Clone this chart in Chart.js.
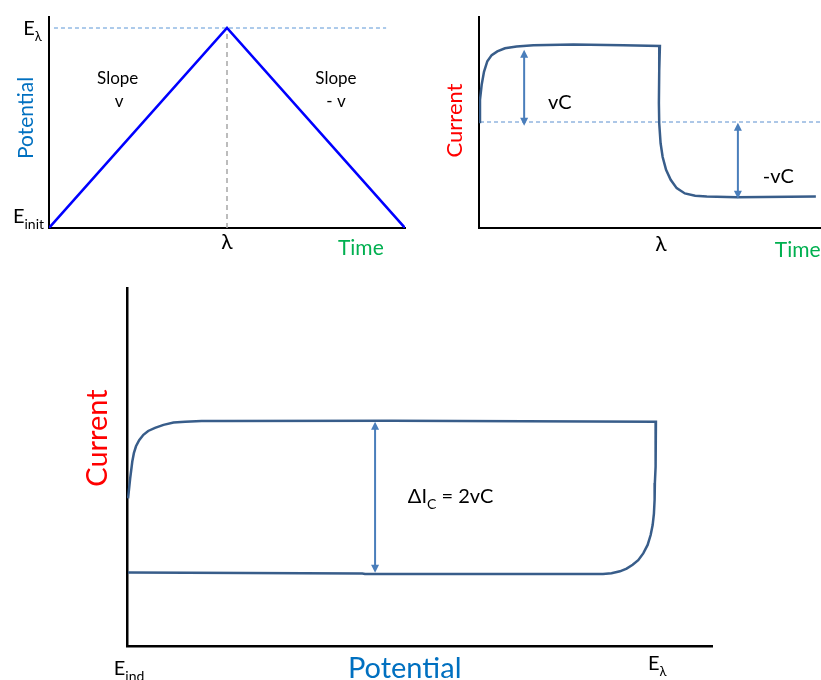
<!DOCTYPE html>
<html>
<head>
<meta charset="utf-8">
<script src="https://cdn.jsdelivr.net/npm/chart.js@4.4.1/dist/chart.umd.min.js"></script>
<style>
  html, body { margin: 0; padding: 0; background: #fff; }
  body { width: 821px; height: 680px; position: relative; overflow: hidden; }
  .panel { position: absolute; }
</style>
</head>
<body>
<div class="panel" style="left:0;top:0;width:420px;height:270px"><canvas id="sweep"></canvas></div>
<div class="panel" style="left:430px;top:0;width:391px;height:270px"><canvas id="charge"></canvas></div>
<div class="panel" style="left:0;top:270px;width:821px;height:410px"><canvas id="cv"></canvas></div>
<script>
// --- potential sweep (triangle wave) ---
const sweepTime = [0, 5, 10];
const sweepPotential = [0, 1, 0];
const switchTime = 5;
const sweepTicks = ['E_{init}', 'E_{λ}', 'λ'];
const sweepTitles = ['Potential', 'Time'];
const slopeNotes = ['Slope', 'v', 'Slope', '- v'];

// --- charging current vs time ---
const chargeTime = [0, 0.29, 0.78, 1.46, 2.43, 3.71, 5.35, 7.6, 11.0, 15.9, 27.6, 42.2, 52.9,
  52.7, 52.6, 52.7, 53.1, 53.7, 54.7, 56.05, 57.8, 60.2, 63.2, 66.6, 75.4, 98.5];
const chargeCurrent = [0, 0.29, 0.49, 0.66, 0.80, 0.88, 0.93, 0.97, 0.995, 1.01, 1.02, 1.01, 1.0,
  0.68, 0.25, -0.02, -0.28, -0.46, -0.63, -0.76, -0.87, -0.94, -0.97, -0.98, -0.99, -0.98];
const chargeSwitch = 53.2;
const chargeArrowTime = [13.2, 75.7];
const chargeArrowFrom = [-0.05, -0.01];
const chargeArrowTo = [0.95, -1.01];
const chargeNotes = ['vC', '-vC'];
const chargeTitles = ['Current', 'Time'];

// --- cyclic voltammogram (capacitive only) ---
const cvPotential = [0.002, 0.004, 0.006, 0.008, 0.010, 0.013, 0.017, 0.023, 0.031, 0.040, 0.053,
  0.069, 0.088, 0.110, 0.141, 0.185, 0.50, 1.0, 1.0, 0.9994, 0.9987, 0.998, 0.9975, 0.9962, 0.9938,
  0.990, 0.9843, 0.976, 0.9665, 0.956, 0.9446, 0.932, 0.916, 0.900, 0.875, 0.45, 0.445, 0.002];
const cvCurrent = [-0.01, 0.12, 0.25, 0.36, 0.47, 0.58, 0.67, 0.75, 0.82, 0.87, 0.91,
  0.95, 0.98, 0.99, 1.0, 1.0, 1.005, 0.99, 0.84, 0.62, 0.40, 0.19, -0.03, -0.21, -0.36,
  -0.49, -0.62, -0.73, -0.82, -0.88, -0.93, -0.965, -0.99, -1.0, -1.0, -1.0, -0.993, -0.98];
const cvArrowPotential = [0.469];
const cvArrowFrom = [-0.985];
const cvArrowTo = [0.99];
const cvNote = 'ΔI_{C} = 2vC';
const cvTicks = ['E_{ind}', 'E_{λ}'];
const cvTitles = ['Current', 'Potential'];

const FONT = 'Lato, "Noto Sans", "DejaVu Sans", sans-serif';
const BLUE = '#0070C0', GREEN = '#00B050', RED = '#FF0000';
const TRACE = '#385D8A', ARROW = '#4A7EBB';

const toPoints = (xs, ys) => xs.map((x, i) => ({ x: x, y: ys[i] }));

// "E_{init}" -> [{t:'E'}, {t:'init', sub:true}]
function splitRich(str) {
  const parts = [];
  const re = /_\{([^}]*)\}/g;
  let last = 0, m;
  while ((m = re.exec(str))) {
    if (m.index > last) parts.push({ t: str.slice(last, m.index), sub: false });
    parts.push({ t: m[1], sub: true });
    last = re.lastIndex;
  }
  if (last < str.length) parts.push({ t: str.slice(last), sub: false });
  return parts;
}

function drawNote(ctx, scales, n) {
  const px = scales.x.getPixelForValue(n.x);
  const py = scales.y.getPixelForValue(n.y);
  const subSize = n.subSize || Math.round(n.size * 0.68);
  const parts = splitRich(n.text).map(p => {
    ctx.font = (p.sub ? subSize : n.size) + 'px ' + FONT;
    return { t: p.t, sub: p.sub, w: ctx.measureText(p.t).width };
  });
  const total = parts.reduce((s, p) => s + p.w, 0);
  ctx.save();
  ctx.translate(px, py);
  if (n.rotate) ctx.rotate(-Math.PI / 2);
  ctx.fillStyle = n.color || '#000';
  ctx.textBaseline = n.rotate ? 'middle' : 'alphabetic';
  ctx.textAlign = 'left';
  let cx = n.align === 'center' ? -total / 2 : n.align === 'right' ? -total : 0;
  parts.forEach(p => {
    ctx.font = (p.sub ? subSize : n.size) + 'px ' + FONT;
    ctx.fillText(p.t, cx, p.sub ? n.size * 0.28 : 0);
    cx += p.w;
  });
  ctx.restore();
}

function drawArrow(ctx, scales, x, from, to) {
  const px = scales.x.getPixelForValue(x);
  const a = scales.y.getPixelForValue(from);
  const b = scales.y.getPixelForValue(to);
  const top = Math.min(a, b), bot = Math.max(a, b);
  ctx.save();
  ctx.strokeStyle = ARROW;
  ctx.fillStyle = ARROW;
  ctx.lineWidth = 2;
  ctx.beginPath();
  ctx.moveTo(px, top + 4);
  ctx.lineTo(px, bot - 4);
  ctx.stroke();
  ctx.beginPath();
  ctx.moveTo(px, top); ctx.lineTo(px - 4, top + 8); ctx.lineTo(px + 4, top + 8);
  ctx.closePath();
  ctx.moveTo(px, bot); ctx.lineTo(px - 4, bot - 8); ctx.lineTo(px + 4, bot - 8);
  ctx.closePath();
  ctx.fill();
  ctx.restore();
}

function overlay(arrows, notes) {
  return {
    id: 'overlay',
    afterDraw(chart) {
      const { ctx, scales } = chart;
      arrows.forEach(a => drawArrow(ctx, scales, a[0], a[1], a[2]));
      notes.forEach(n => drawNote(ctx, scales, n));
    }
  };
}

function axis(min, max, width) {
  return {
    type: 'linear', min: min, max: max,
    grid: { display: false, drawTicks: false },
    ticks: { display: false },
    border: { display: true, color: '#000', width: width }
  };
}

function options(pad, xRange, yRange, axisWidth) {
  return {
    responsive: true,
    maintainAspectRatio: false,
    animation: false,
    events: [],
    layout: { padding: pad, autoPadding: false },
    plugins: { legend: { display: false }, tooltip: { enabled: false } },
    elements: { point: { radius: 0 }, line: { tension: 0 } },
    scales: { x: axis(xRange[0], xRange[1], axisWidth), y: axis(yRange[0], yRange[1], axisWidth) }
  };
}

// top left: potential against time
new Chart(document.getElementById('sweep'), {
  type: 'scatter',
  data: {
    datasets: [
      { data: toPoints(sweepTime, sweepPotential), showLine: true, borderColor: '#0000FF', borderWidth: 2.5 },
      { data: [{ x: 0.14, y: 1 }, { x: 9.47, y: 1 }], showLine: true, borderColor: '#5B96D6', borderWidth: 1, borderDash: [4, 3] },
      { data: [{ x: switchTime, y: 0 }, { x: switchTime, y: 1 }], showLine: true, borderColor: '#A6A6A6', borderWidth: 1.5, borderDash: [5, 4] }
    ]
  },
  options: options({ left: 49, top: 17, right: 15, bottom: 42 }, [0, 10], [0, 1.055], 2),
  plugins: [overlay([], [
    { text: sweepTicks[0], x: -0.14, y: 0.025, size: 20, subSize: 14, align: 'right' },
    { text: sweepTicks[1], x: -0.2, y: 0.965, size: 20, subSize: 13, align: 'right' },
    { text: sweepTicks[2], x: switchTime, y: -0.105, size: 21, align: 'center' },
    { text: sweepTitles[0], x: -0.63, y: 0.55, size: 21, color: BLUE, align: 'center', rotate: true },
    { text: sweepTitles[1], x: 8.76, y: -0.135, size: 21, color: GREEN, align: 'center' },
    { text: slopeNotes[0], x: 1.93, y: 0.72, size: 17, align: 'center' },
    { text: slopeNotes[1], x: 1.97, y: 0.605, size: 17, align: 'center' },
    { text: slopeNotes[2], x: 8.06, y: 0.72, size: 17, align: 'center' },
    { text: slopeNotes[3], x: 8.06, y: 0.605, size: 17, align: 'center' }
  ])]
});

// top right: charging current against time
new Chart(document.getElementById('charge'), {
  type: 'scatter',
  data: {
    datasets: [
      { data: toPoints(chargeTime, chargeCurrent), showLine: true, borderColor: TRACE, borderWidth: 2.5 },
      { data: [{ x: 0.3, y: 0 }, { x: 100, y: 0 }], showLine: true, borderColor: '#5B8FCF', borderWidth: 1, borderDash: [4, 3] }
    ]
  },
  options: options({ left: 49, top: 17, right: 0, bottom: 42 }, [0, 100], [-1.395, 1.382], 2),
  plugins: [overlay(
    chargeArrowTime.map((t, i) => [t, chargeArrowFrom[i], chargeArrowTo[i]]),
    [
      { text: chargeTitles[0], x: -7.0, y: 0.02, size: 22, color: RED, align: 'center', rotate: true },
      { text: chargeTitles[1], x: 86.5, y: -1.776, size: 21, color: GREEN, align: 'left' },
      { text: 'λ', x: chargeSwitch, y: -1.697, size: 21, align: 'center' },
      { text: chargeNotes[0], x: 20.2, y: 0.171, size: 20, align: 'left' },
      { text: chargeNotes[1], x: 83.0, y: -0.803, size: 20, align: 'left' }
    ]
  )]
});

// bottom: current against potential, one full cycle
new Chart(document.getElementById('cv'), {
  type: 'scatter',
  data: {
    datasets: [
      { data: toPoints(cvPotential, cvCurrent), showLine: true, borderColor: TRACE, borderWidth: 2.5 }
    ]
  },
  options: options({ left: 127, top: 18, right: 109, bottom: 34 }, [0, 1.106], [-1.941, 2.739], 2.5),
  plugins: [overlay(
    cvArrowPotential.map((p, i) => [p, cvArrowFrom[i], cvArrowTo[i]]),
    [
      { text: cvNote, x: 0.531, y: -0.072, size: 20, subSize: 14, align: 'left' },
      { text: cvTitles[0], x: -0.055, y: 0.778, size: 29, color: RED, align: 'center', rotate: true },
      { text: cvTitles[1], x: 0.525, y: -2.36, size: 29, color: BLUE, align: 'center' },
      { text: cvTicks[0], x: -0.025, y: -2.32, size: 20, subSize: 14, align: 'left' },
      { text: cvTicks[1], x: 0.985, y: -2.255, size: 20, subSize: 13, align: 'left' }
    ]
  )]
});
</script>
</body>
</html>
